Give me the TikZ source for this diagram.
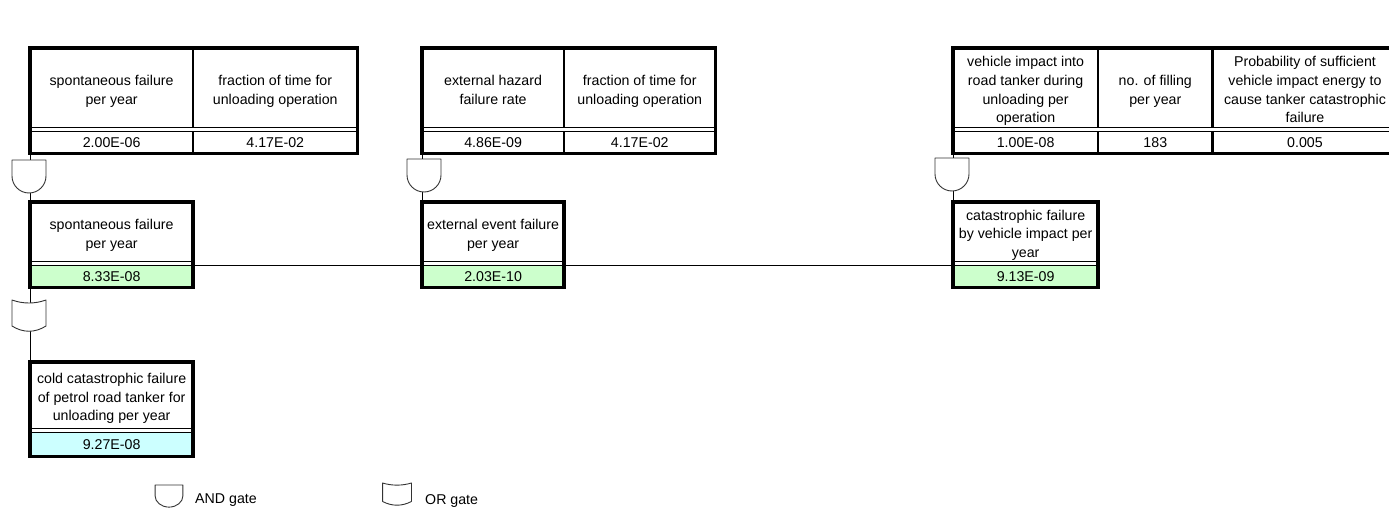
\documentclass[tikz,border=0pt]{standalone}
\usepackage{fontspec}
\setmainfont{Liberation Sans}
\usetikzlibrary{positioning}

\definecolor{valgreen}{HTML}{CCFFCC}
\definecolor{valcyan}{HTML}{CCFFFF}
% text of a cell, set a little below its centre
\newcommand{\cellrows}[1]{\raisebox{-3pt}[\height][\depth]{\begin{tabular}{@{}c@{}}#1\end{tabular}}}

\begin{document}
\begin{tikzpicture}[x=1pt, y=-1pt,
    every node/.style={font=\fontsize{14.2}{18.6}\selectfont, align=center, inner sep=0pt},
    cell/.style={draw, line width=1.2pt},
    valcell/.style={cell, minimum height=21, below=3pt of #1},
    frame/.style={line width=3.6pt},
    link/.style={line width=1pt},
    gate/.style={draw=black!80, line width=0.9pt, fill=white, line join=round},
    andgate/.pic={\draw[gate] (-17,0) -- (17,0) -- (17,16) arc (0:180:17) -- cycle;},
    orgate/.pic={\draw[gate] (-17,0) .. controls (-6,4) and (6,4) .. (17,0) -- (17,26)
        .. controls (6,33) and (-6,33) .. (-17,26) -- cycle;}]

    \useasboundingbox (0,0) rectangle (1389,514);
    \clip (0,0) rectangle (1389,514);

    %Top tables
    \node[cell, minimum width=162, minimum height=79, anchor=north west] (sfTa) at (30,48) {\cellrows{spontaneous failure\\per year}};
    \node[cell, minimum width=163, minimum height=79, right=0pt of sfTa] (sfTb) {\cellrows{fraction of time for\\unloading operation}};
    \node[valcell=sfTa, minimum width=162] (sfTav) {2.00E-06};
    \node[valcell=sfTb, minimum width=163] (sfTbv) {4.17E-02};
    \draw[frame] (sfTa.north west) rectangle (sfTbv.south east);

    \node[cell, minimum width=141, minimum height=79, anchor=north west] (ehTa) at (422,48) {\cellrows{external hazard\\failure rate}};
    \node[cell, minimum width=150, minimum height=79, right=0pt of ehTa] (ehTb) {\cellrows{fraction of time for\\unloading operation}};
    \node[valcell=ehTa, minimum width=141] (ehTav) {4.86E-09};
    \node[valcell=ehTb, minimum width=150] (ehTbv) {4.17E-02};
    \draw[frame] (ehTa.north west) rectangle (ehTbv.south east);

    \node[cell, minimum width=144, minimum height=79, anchor=north west] (viTa) at (953,48) {\cellrows{vehicle impact into\\road tanker during\\unloading per\\operation}};
    \node[cell, minimum width=113, minimum height=79, right=0pt of viTa] (viTb) {\cellrows{no. of filling\\per year}};
    \node[cell, minimum width=184, minimum height=79, right=0pt of viTb] (viTc) {\cellrows{Probability of sufficient\\vehicle impact energy to\\cause tanker catastrophic\\failure}};
    \node[valcell=viTa, minimum width=144] (viTav) {1.00E-08};
    \node[valcell=viTb, minimum width=113] (viTbv) {183};
    \node[valcell=viTc, minimum width=184] (viTcv) {0.005};
    \draw[frame] (viTa.north west) rectangle (viTcv.south east);

    %Intermediate events
    \node[cell, minimum width=162, minimum height=59, anchor=north west] (sfM) at (30,202) {\cellrows{spontaneous failure\\per year}};
    \node[valcell=sfM, minimum width=162, fill=valgreen] (sfMv) {8.33E-08};
    \draw[frame] (sfM.north west) rectangle (sfMv.south east);

    \node[cell, minimum width=141, minimum height=59, anchor=north west] (eeM) at (422,202) {\cellrows{external event failure\\per year}};
    \node[valcell=eeM, minimum width=141, fill=valgreen] (eeMv) {2.03E-10};
    \draw[frame] (eeM.north west) rectangle (eeMv.south east);

    \node[cell, minimum width=144, minimum height=59, anchor=north west] (viM) at (953,202) {\cellrows{catastrophic failure\\by vehicle impact per\\year}};
    \node[valcell=viM, minimum width=144, fill=valgreen] (viMv) {9.13E-09};
    \draw[frame] (viM.north west) rectangle (viMv.south east);

    %Top event
    \node[cell, minimum width=162, minimum height=66, anchor=north west] (cfB) at (30,362) {\cellrows{cold catastrophic failure\\of petrol road tanker for\\unloading per year}};
    \node[valcell=cfB, minimum width=162, minimum height=23, fill=valcyan] (cfBv) {9.27E-08};
    \draw[frame] (cfB.north west) rectangle (cfBv.south east);

    %Connectors
    \draw[link] (sfTav.south west) -- (sfM.north west);
    \draw[link] (ehTav.south west) -- (eeM.north west);
    \draw[link] (viTav.south west) -- (viM.north west);
    \draw[link] (sfMv.south west) -- (cfB.north west);
    \draw[link] (sfMv.north east) -- (eeMv.north west);
    \draw[link] (eeMv.north east) -- (viMv.north west);

    %Gates
    \pic (andsf) at (29,160) {andgate};
    \pic (andee) at (424,159) {andgate};
    \pic (andvi) at (952,158) {andgate};
    \pic (orcf) at (29,300) {orgate};

    %Legend
    \pic[xscale=0.82, yscale=0.67] (andlg) at (169,485) {andgate};
    \node[anchor=west] (andtxt) at (195,500) {AND gate};
    \pic[xscale=0.85, yscale=0.71] (orlg) at (397,483) {orgate};
    \node[anchor=west] (ortxt) at (425,501) {OR gate};

\end{tikzpicture}
\end{document}
